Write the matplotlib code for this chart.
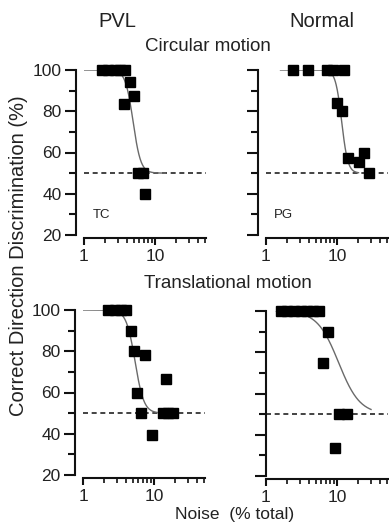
import numpy as np
import matplotlib.pyplot as plt
from matplotlib.ticker import LogLocator, FixedLocator, NullFormatter, FixedFormatter

plt.rcParams['font.family'] = ['Liberation Sans', 'DejaVu Sans']

# noise level (% total) and percent correct for each observer / condition
pvl_circ_x = [1.8, 2.2, 2.7, 3.2, 3.8, 4.45, 5.1, 3.6, 5.8, 6.8, 7.2]
pvl_circ_y = [100, 100, 100, 100, 100, 94, 87.5, 83.5, 50, 50, 40]
nor_circ_x = [2.4, 3.9, 7.3, 8.8, 12.6, 10.1, 11.6, 14.4, 20.2, 24.2, 28.5]
nor_circ_y = [100, 100, 100, 100, 100, 84, 80, 57.5, 55.5, 60, 50]
pvl_tran_x = [2.25, 2.8, 3.4, 4.0, 4.75, 5.2, 7.5, 5.7, 6.6, 14.7, 9.3, 13.2, 15.5, 18.2]
pvl_tran_y = [100, 100, 100, 100, 90, 80, 78, 60, 50, 66.5, 39.5, 50, 50, 50]
nor_tran_x = [1.65, 2.0, 2.5, 3.1, 3.8, 4.6, 5.6, 7.4, 6.4, 10.8, 14.0, 9.4]
nor_tran_y = [100, 100, 100, 100, 100, 100, 100, 90, 75, 50, 50, 33.5]

# fitted psychometric functions: threshold, slope, drawn range
fit_x50 = [4.9, 11.6, 5.4, 10.5]
fit_slope = [8, 10, 7, 2.9]
fit_lo = [1.0, 1.6, 1.0, 1.4]
fit_hi = [14, 20, 11, 30]

observers = ["TC", "PG", "", ""]
chance = 50

W, H = 389, 524
fig = plt.figure(figsize=(W / 100, H / 100), dpi=100)

# panel boxes in pixels: left, right, top, bottom
boxes = [(84, 206, 70, 235), (266, 388, 70, 235),
         (83, 205, 310, 475), (266, 388, 311, 476)]
xs = [pvl_circ_x, nor_circ_x, pvl_tran_x, nor_tran_x]
ys = [pvl_circ_y, nor_circ_y, pvl_tran_y, nor_tran_y]
yoff = [6, 6, 6, 0]

for i, (l, r, t, b) in enumerate(boxes):
    ax = fig.add_axes([l / W, 1 - b / H, (r - l) / W, (b - t) / H])
    ax.set_xscale('log')
    ax.set_xlim(1, 52)
    ax.set_ylim(20, 100)

    ax.axhline(chance, color='#222222', lw=1.2, ls=(0, (3, 2.2)), zorder=1)
    xx = np.logspace(np.log10(fit_lo[i]), np.log10(fit_hi[i]), 200)
    yy = chance + (100 - chance) / (1 + (xx / fit_x50[i]) ** fit_slope[i])
    ax.plot(xx, yy, color='#6a6a6a', lw=1.0, zorder=2)
    ax.plot(xs[i], ys[i], 's', color='black', ms=7.6, mec='black',
            clip_on=False, zorder=3)

    for s in ['top', 'right']:
        ax.spines[s].set_visible(False)
    ax.spines['left'].set_position(('outward', yoff[i]))
    ax.spines['bottom'].set_position(('outward', 2))
    for s in ['left', 'bottom']:
        ax.spines[s].set_linewidth(1.5)
        ax.spines[s].set_color('#111111')

    ax.yaxis.set_major_locator(FixedLocator([20, 40, 60, 80, 100]))
    ax.yaxis.set_minor_locator(FixedLocator([30, 50, 70, 90]))
    ax.xaxis.set_major_locator(FixedLocator([1, 10]))
    ax.xaxis.set_major_formatter(FixedFormatter(['1', '10']))
    ax.xaxis.set_minor_locator(LogLocator(base=10, subs=np.arange(2, 10)))
    ax.xaxis.set_minor_formatter(NullFormatter())
    ax.tick_params(axis='y', which='major', length=8, width=1.5, labelsize=12.5,
                   colors='#111111', labelcolor='#222222', pad=2)
    ax.tick_params(axis='y', which='minor', length=5, width=1.5, colors='#111111')
    ax.tick_params(axis='x', which='major', length=5, width=1.5, labelsize=12.5,
                   colors='#111111', labelcolor='#222222', pad=3)
    ax.tick_params(axis='x', which='minor', length=3.5, width=1.2, colors='#111111')
    if i % 2 == 1:
        ax.set_yticklabels([])

    if observers[i]:
        ax.text(0.14, 0.12, observers[i], transform=ax.transAxes, fontsize=9.5,
                color='#222222', ha='center', va='center')

fig.text(117.5 / W, 1 - 21.5 / H, "PVL", fontsize=14.5, color='#222222',
         ha='center', va='center')
fig.text(321.5 / W, 1 - 21.5 / H, "Normal", fontsize=14.5, color='#222222',
         ha='center', va='center')
fig.text(208 / W, 1 - 46.5 / H, "Circular motion", fontsize=13.5, color='#222222',
         ha='center', va='center')
fig.text(228 / W, 1 - 283.5 / H, "Translational motion", fontsize=13.5,
         color='#222222', ha='center', va='center')
fig.text(235 / W, 1 - 515 / H, "Noise  (% total)", fontsize=12.5, color='#222222',
         ha='center', va='center')
fig.text(19 / W, 1 - 256 / H, "Correct Direction Discrimination (%)", fontsize=14.5,
         color='#222222', ha='center', va='center', rotation=90)

fig.savefig("out.png", dpi=100)
